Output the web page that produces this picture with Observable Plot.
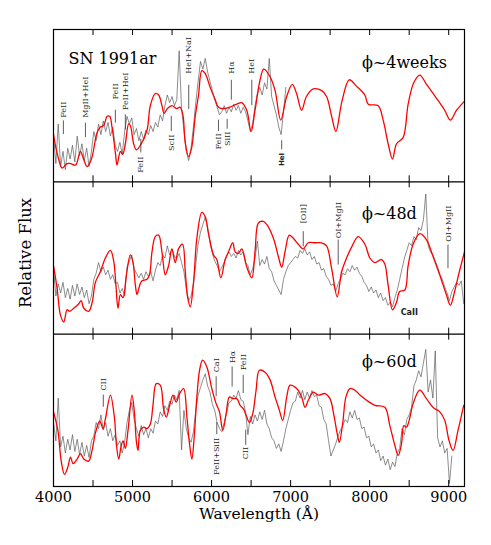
<!DOCTYPE html>
<html>
<head>
<meta charset="utf-8">
<script src="https://cdn.jsdelivr.net/npm/d3@7"></script>
<script src="https://cdn.jsdelivr.net/npm/@observablehq/plot@0.6"></script>
<style>
  html, body { margin: 0; padding: 0; background: #fff; }
  #chart { width: 491px; height: 545px; }
</style>
</head>
<body>
<div id="chart"></div>
<script>
// ---------- data ----------
const panels = ["4weeks", "48d", "60d"];           // top, middle, bottom
const phaseLabels = ["ϕ~4weeks", "ϕ~48d", "ϕ~60d"];
const objectName = "SN 1991ar";
const xTickLabels = [4000, 5000, 6000, 7000, 8000, 9000];
const xMinorTicks = [4000, 4500, 5000, 5500, 6000, 6500, 7000, 7500, 8000, 8500, 9000];
const xLabel = "Wavelength (Å)";
const yLabel = "Relative Flux";

// observed spectra (gray), [wavelength, relative flux within panel]
const grayTop = [[4000,.30],[4030,.12],[4060,.38],[4090,.10],[4120,.20],[4150,.08],[4180,.22],[4210,.15],[4240,.24],[4270,.13],[4300,.30],[4330,.17],[4360,.25],[4390,.14],[4420,.22],[4450,.10],[4480,.20],[4510,.33],[4540,.27],[4570,.38],[4600,.31],[4630,.40],[4660,.33],[4690,.39],[4720,.30],[4750,.36],[4780,.24],[4810,.20],[4840,.26],[4870,.18],[4900,.33],[4930,.43],[4960,.38],[4990,.42],[5020,.31],[5050,.35],[5080,.27],[5110,.33],[5140,.28],[5170,.34],[5200,.31],[5230,.37],[5260,.33],[5290,.39],[5320,.36],[5350,.44],[5380,.40],[5410,.50],[5440,.57],[5470,.52],[5500,.56],[5530,.50],[5560,.54],[5590,.86],[5620,.48],[5650,.34],[5680,.20],[5710,.14],[5740,.22],[5770,.36],[5800,.52],[5830,.66],[5860,.79],[5890,.74],[5920,.81],[5950,.72],[5980,.66],[6010,.60],[6040,.54],[6070,.49],[6100,.44],[6130,.46],[6160,.50],[6190,.45],[6220,.49],[6250,.46],[6280,.51],[6310,.47],[6340,.50],[6370,.45],[6400,.49],[6430,.46],[6460,.40],[6490,.33],[6520,.38],[6550,.50],[6580,.58],[6610,.62],[6640,.57],[6670,.65],[6700,.61],[6730,.81],[6760,.56],[6790,.50],[6820,.44],[6850,.36],[6880,.31],[6910,.46],[6940,.62]];

const grayMid = [[4000,.44],[4030,.25],[4060,.33],[4090,.27],[4120,.34],[4150,.24],[4180,.30],[4210,.23],[4240,.32],[4270,.25],[4300,.33],[4330,.26],[4360,.31],[4390,.24],[4420,.29],[4450,.20],[4480,.25],[4510,.36],[4540,.40],[4570,.47],[4600,.41],[4630,.44],[4660,.39],[4690,.42],[4720,.36],[4750,.39],[4780,.33],[4810,.34],[4840,.27],[4870,.30],[4900,.25],[4930,.44],[4960,.48],[4990,.52],[5020,.43],[5050,.40],[5080,.37],[5110,.40],[5140,.36],[5170,.41],[5200,.38],[5230,.41],[5260,.35],[5290,.42],[5320,.47],[5350,.45],[5380,.52],[5410,.50],[5440,.58],[5470,.52],[5500,.56],[5530,.51],[5560,.50],[5590,.53],[5620,.47],[5650,.41],[5680,.30],[5710,.22],[5740,.25],[5770,.33],[5800,.46],[5830,.59],[5860,.67],[5890,.72],[5920,.77],[5950,.70],[5980,.60],[6010,.53],[6040,.48],[6070,.45],[6100,.41],[6130,.44],[6160,.47],[6190,.51],[6220,.54],[6250,.51],[6280,.53],[6310,.50],[6340,.55],[6370,.52],[6400,.54],[6430,.47],[6460,.45],[6490,.39],[6520,.43],[6550,.50],[6580,.61],[6610,.45],[6640,.49],[6670,.46],[6700,.51],[6730,.43],[6760,.41],[6790,.35],[6820,.32],[6850,.29],[6880,.26],[6910,.36],[6940,.41],[6970,.45],[7000,.47],[7030,.49],[7060,.51],[7090,.50],[7120,.55],[7150,.53],[7180,.56],[7210,.52],[7240,.54],[7270,.49],[7300,.51],[7330,.46],[7360,.47],[7390,.42],[7420,.43],[7450,.38],[7480,.36],[7510,.32],[7540,.33],[7570,.28],[7600,.33],[7630,.36],[7660,.40],[7690,.39],[7720,.43],[7750,.41],[7780,.45],[7810,.42],[7840,.44],[7870,.40],[7900,.38],[7930,.34],[7960,.32],[7990,.28],[8020,.31],[8050,.27],[8080,.29],[8110,.24],[8140,.27],[8170,.22],[8200,.24],[8230,.19],[8260,.21],[8290,.18],[8320,.24],[8350,.29],[8380,.36],[8410,.43],[8440,.50],[8470,.55],[8500,.60],[8530,.58],[8560,.64],[8590,.62],[8620,.70],[8650,.68],[8680,.75],[8710,.92],[8740,.58],[8770,.54],[8800,.52],[8830,.48],[8860,.44],[8890,.39],[8920,.36],[8950,.31],[8980,.27],[9010,.22],[9040,.28],[9070,.31],[9100,.34],[9130,.32],[9160,.35],[9190,.20]];

const grayBot = [[4000,.42],[4030,.30],[4060,.58],[4090,.26],[4120,.33],[4150,.22],[4180,.31],[4210,.24],[4240,.34],[4270,.23],[4300,.31],[4330,.21],[4360,.29],[4390,.20],[4420,.27],[4450,.19],[4480,.30],[4510,.33],[4540,.42],[4570,.38],[4600,.47],[4630,.37],[4660,.42],[4690,.33],[4720,.38],[4750,.30],[4780,.34],[4810,.27],[4840,.30],[4870,.22],[4900,.29],[4930,.42],[4960,.50],[4990,.55],[5020,.44],[5050,.38],[5080,.33],[5110,.40],[5140,.34],[5170,.38],[5200,.32],[5230,.38],[5260,.35],[5290,.43],[5320,.41],[5350,.49],[5380,.46],[5410,.53],[5440,.50],[5470,.56],[5500,.54],[5530,.60],[5560,.57],[5590,.63],[5620,.24],[5650,.50],[5680,.38],[5710,.32],[5740,.29],[5770,.36],[5800,.50],[5830,.60],[5860,.65],[5890,.70],[5920,.74],[5950,.66],[5980,.62],[6010,.54],[6040,.50],[6070,.42],[6100,.38],[6130,.36],[6160,.42],[6190,.48],[6220,.55],[6250,.56],[6280,.60],[6310,.58],[6340,.63],[6370,.57],[6400,.56],[6430,.49],[6460,.34],[6490,.46],[6520,.41],[6550,.47],[6580,.43],[6610,.49],[6640,.44],[6670,.50],[6700,.41],[6730,.38],[6760,.32],[6790,.30],[6820,.25],[6850,.28],[6880,.23],[6910,.30],[6940,.38],[6970,.44],[7000,.50],[7030,.55],[7060,.56],[7090,.62],[7120,.58],[7150,.63],[7180,.57],[7210,.62],[7240,.58],[7270,.63],[7300,.59],[7330,.60],[7360,.53],[7390,.52],[7420,.44],[7450,.41],[7480,.30],[7510,.20],[7540,.24],[7570,.28],[7600,.33],[7630,.37],[7660,.40],[7690,.44],[7720,.42],[7750,.49],[7780,.45],[7810,.50],[7840,.44],[7870,.45],[7900,.38],[7930,.39],[7960,.32],[7990,.33],[8020,.26],[8050,.28],[8080,.22],[8110,.24],[8140,.17],[8170,.20],[8200,.14],[8230,.18],[8260,.11],[8290,.16],[8320,.13],[8350,.22],[8380,.25],[8410,.38],[8440,.34],[8470,.44],[8500,.47],[8530,.52],[8560,.66],[8590,.70],[8620,.76],[8650,.72],[8680,.81],[8710,.90],[8740,.62],[8770,.70],[8800,.58],[8830,.89],[8860,.32],[8890,.26],[8920,.30],[8950,.22],[8980,.25],[9010,.02],[9040,.20]];

// synthetic model spectra (red)
const redTop = [[4000,.31],[4050,.18],[4110,.09],[4170,.12],[4215,.12],[4280,.11],[4340,.20],[4380,.15],[4425,.10],[4480,.15],[4550,.32],[4593,.36],[4635,.37],[4678,.43],[4711,.43],[4740,.36],[4783,.19],[4804,.11],[4846,.20],[4875,.18],[4909,.25],[4951,.38],[4972,.37],[5014,.25],[5048,.21],[5100,.24],[5183,.34],[5225,.50],[5288,.58],[5330,.57],[5372,.50],[5400,.45],[5440,.48],[5498,.50],[5560,.48],[5600,.49],[5637,.44],[5666,.26],[5709,.165],[5750,.23],[5793,.43],[5835,.57],[5877,.73],[5920,.71],[5982,.62],[6045,.54],[6087,.49],[6150,.48],[6230,.49],[6319,.51],[6380,.52],[6445,.47],[6500,.33],[6550,.47],[6614,.67],[6660,.74],[6740,.69],[6803,.60],[6875,.405],[6950,.56],[7021,.64],[7075,.58],[7139,.47],[7200,.56],[7287,.61],[7390,.60],[7455,.56],[7519,.43],[7573,.33],[7650,.53],[7742,.67],[7830,.63],[7939,.57],[7982,.51],[8108,.50],[8171,.405],[8234,.25],[8289,.15],[8340,.25],[8423,.29],[8487,.51],[8558,.65],[8634,.70],[8720,.64],[8844,.55],[8949,.47],[9021,.405],[9100,.47],[9200,.53]];

const redMid = [[4000,.45],[4046,.30],[4088,.125],[4130,.08],[4172,.16],[4205,.15],[4256,.17],[4320,.20],[4350,.22],[4383,.17],[4446,.15],[4490,.21],[4530,.34],[4593,.41],[4656,.50],[4720,.55],[4762,.48],[4790,.32],[4816,.17],[4846,.26],[4880,.24],[4920,.38],[4972,.52],[5006,.47],[5036,.32],[5057,.26],[5090,.32],[5120,.35],[5183,.36],[5215,.39],[5246,.54],[5288,.64],[5330,.65],[5372,.54],[5414,.39],[5456,.45],[5498,.56],[5540,.47],[5582,.56],[5633,.59],[5666,.42],[5695,.25],[5730,.18],[5772,.34],[5814,.63],[5877,.80],[5920,.77],[5961,.66],[6025,.52],[6066,.49],[6117,.37],[6172,.49],[6214,.54],[6268,.60],[6298,.54],[6340,.53],[6382,.56],[6446,.44],[6509,.37],[6551,.55],[6593,.73],[6656,.74],[6698,.72],[6782,.63],[6845,.51],[6887,.44],[6929,.54],[6983,.65],[7034,.63],[7097,.59],[7160,.56],[7223,.60],[7307,.60],[7392,.60],[7455,.58],[7519,.43],[7590,.245],[7645,.41],[7700,.49],[7770,.57],[7855,.64],[7940,.59],[8003,.50],[8066,.47],[8150,.49],[8192,.46],[8234,.32],[8289,.16],[8340,.21],[8380,.28],[8445,.29],[8487,.45],[8550,.59],[8634,.66],[8718,.62],[8802,.51],[8886,.39],[8970,.26],[9021,.19],[9075,.28],[9130,.40],[9200,.54]];

const redBot = [[4000,.49],[4055,.37],[4097,.17],[4139,.079],[4181,.127],[4215,.193],[4248,.15],[4299,.18],[4341,.215],[4383,.18],[4446,.167],[4488,.237],[4530,.35],[4585,.43],[4627,.38],[4657,.445],[4720,.60],[4770,.456],[4795,.28],[4825,.18],[4854,.26],[4880,.30],[4909,.25],[4943,.37],[4993,.60],[5023,.49],[5048,.30],[5069,.237],[5098,.368],[5140,.39],[5183,.38],[5225,.41],[5258,.53],[5300,.675],[5351,.665],[5393,.51],[5427,.456],[5469,.53],[5511,.60],[5553,.555],[5595,.61],[5646,.643],[5688,.456],[5721,.28],[5751,.18],[5780,.325],[5814,.588],[5848,.763],[5886,.83],[5940,.785],[6003,.643],[6058,.544],[6100,.49],[6142,.368],[6184,.478],[6226,.588],[6268,.577],[6319,.577],[6361,.533],[6403,.51],[6445,.456],[6479,.42],[6521,.478],[6563,.632],[6605,.763],[6677,.75],[6740,.70],[6803,.588],[6858,.50],[6900,.434],[6951,.588],[6993,.665],[7077,.643],[7140,.588],[7182,.52],[7224,.566],[7287,.62],[7351,.60],[7435,.61],[7498,.577],[7548,.467],[7590,.346],[7616,.29],[7658,.412],[7700,.588],[7750,.643],[7814,.632],[7877,.60],[7961,.566],[8066,.533],[8192,.52],[8255,.40],[8319,.27],[8361,.204],[8403,.28],[8432,.40],[8466,.39],[8500,.434],[8550,.544],[8634,.632],[8718,.577],[8803,.518],[8887,.49],[8950,.434],[9005,.30],[9055,.237],[9118,.368],[9190,.533]];

// line identifications: text above a marker (label starts at `base`, marker from lo to hi)
const idsAbove = [
  {panel: 0, text: "FeII",     wave: 4125, base: 0.42,  lo: 0.31,  hi: 0.40},
  {panel: 0, text: "MgII+HeI", wave: 4404, base: 0.42,  lo: 0.29,  hi: 0.385},
  {panel: 0, text: "FeII",     wave: 4783, base: 0.54,  lo: 0.385, hi: 0.47},
  {panel: 0, text: "FeII+HeI", wave: 4909, base: 0.47,  lo: 0.34,  hi: 0.44},
  {panel: 0, text: "HeI+NaI",  wave: 5711, base: 0.71,  lo: 0.475, hi: 0.634},
  {panel: 0, text: "Hα",       wave: 6250, base: 0.71,  lo: 0.536, hi: 0.667},
  {panel: 0, text: "HeI",      wave: 6509, base: 0.71,  lo: 0.50,  hi: 0.667},
  {panel: 1, text: "[OII]",    wave: 7160, base: 0.728, lo: 0.574, hi: 0.673},
  {panel: 1, text: "OI+MgII",  wave: 7602, base: 0.63,  lo: 0.454, hi: 0.618},
  {panel: 1, text: "OI+MgII",  wave: 8991, base: 0.607, lo: 0.43,  hi: 0.585},
  {panel: 2, text: "CII",      wave: 4630, base: 0.63,  lo: 0.52,  hi: 0.60},
  {panel: 2, text: "CaI",      wave: 6058, base: 0.75,  lo: 0.59,  hi: 0.72},
  {panel: 2, text: "Hα",       wave: 6260, base: 0.81,  lo: 0.653, hi: 0.785},
  {panel: 2, text: "FeII",     wave: 6400, base: 0.763, lo: 0.61,  hi: 0.73}
];
// text below a marker (label ends at `base`)
const idsBelow = [
  {panel: 0, text: "FeII",      wave: 5105, base: 0.165, lo: 0.19,  hi: 0.28},
  {panel: 0, text: "ScII",      wave: 5490, base: 0.31,  lo: 0.33,  hi: 0.43},
  {panel: 0, text: "FeII",      wave: 6087, base: 0.318, lo: 0.33,  hi: 0.405},
  {panel: 0, text: "SiII",      wave: 6197, base: 0.33,  lo: 0.345, hi: 0.41},
  {panel: 2, text: "FeII+SiII", wave: 6066, base: 0.32,  lo: 0.34,  hi: 0.42},
  {panel: 2, text: "CII",       wave: 6432, base: 0.26,  lo: 0.27,  hi: 0.37}
];
const idsBelowBold = [
  {panel: 0, text: "HeI", wave: 6887, base: 0.19, lo: 0.21, hi: 0.27}
];
const idsFlat = [
  {panel: 1, text: "CaII", wave: 8501, base: 0.14}
];
// panel titles
const objectPos = {panel: 0, wave: 4189, level: 0.81};
const phasePos = [
  {panel: 0, wave: 7902, level: 0.78},
  {panel: 1, wave: 7902, level: 0.79},
  {panel: 2, wave: 7902, level: 0.82}
];

// ---------- build tables ----------
const nPanels = panels.length;
const off = p => nPanels - 1 - p;  // stack panels top to bottom
const toRows = (arr, p) => arr.map(([wave, flux]) => ({panel: panels[p], wave, y: flux + off(p)}));
const grayRows = [...toRows(grayTop, 0), ...toRows(grayMid, 1), ...toRows(grayBot, 2)];
const redRows  = [...toRows(redTop, 0),  ...toRows(redMid, 1),  ...toRows(redBot, 2)];
const shift = d => ({...d, yb: d.base + off(d.panel), y1: d.lo + off(d.panel), y2: d.hi + off(d.panel)});
const above = idsAbove.map(shift), below = idsBelow.map(shift), belowBold = idsBelowBold.map(shift);
const flat = idsFlat.map(d => ({...d, yb: d.base + off(d.panel)}));

const W = 491, H = 545, mt = 29, mb = 59, ml = 53, mr = 27;
const panelPx = (H - mt - mb) / nPanels;
const tickLen = 6 / panelPx;
const boundaries = d3.range(nPanels + 1);
const tickRows = boundaries.flatMap(b => xMinorTicks.map(x => ({x, y1: Math.max(0, b - tickLen), y2: Math.min(nPanels, b + tickLen)})));

const chart = Plot.plot({
  width: W, height: H,
  marginTop: mt, marginBottom: mb, marginLeft: ml, marginRight: mr,
  style: {fontFamily: "'DejaVu Serif', serif", fontSize: "14.5px", background: "#fff", color: "#000", overflow: "visible"},
  x: {domain: [4000, 9200], ticks: xTickLabels, tickFormat: "d", tickSize: 0, tickPadding: 5, label: null},
  y: {domain: [0, nPanels], axis: null},
  marks: [
    Plot.line(grayRows, {x: "wave", y: "y", z: "panel", stroke: "#5c5c5c", strokeWidth: 0.7}),
    Plot.line(redRows, {x: "wave", y: "y", z: "panel", stroke: "#ff0000", strokeWidth: 1.3, curve: "catmull-rom"}),
    Plot.ruleX([...above, ...below, ...belowBold], {x: "wave", y1: "y1", y2: "y2", stroke: "#333", strokeWidth: 0.8}),
    Plot.text(above, {x: "wave", y: "yb", text: "text", rotate: -90, textAnchor: "start", lineAnchor: "middle", fontSize: 8, fill: "#222"}),
    Plot.text(below, {x: "wave", y: "yb", text: "text", rotate: -90, textAnchor: "end", lineAnchor: "middle", fontSize: 8, fill: "#222"}),
    Plot.text(belowBold, {x: "wave", y: "yb", text: "text", rotate: -90, textAnchor: "end", lineAnchor: "middle", fontSize: 7, fontWeight: "bold", fontFamily: "'DejaVu Sans', sans-serif", fill: "#222"}),
    Plot.text(flat, {x: "wave", y: "yb", text: "text", fontSize: 8, fontWeight: "bold", fontFamily: "'DejaVu Sans', sans-serif", fill: "#222"}),
    Plot.text([objectName], {x: objectPos.wave, y: objectPos.level + off(objectPos.panel), textAnchor: "start", fontSize: 16}),
    Plot.text(phasePos, {x: "wave", y: d => d.level + off(d.panel), text: (d, i) => phaseLabels[i], textAnchor: "start", fontSize: 16}),
    Plot.frame({stroke: "#000", strokeWidth: 1.2}),
    Plot.ruleY(boundaries.slice(1, -1), {stroke: "#000", strokeWidth: 1.2}),
    Plot.ruleX(tickRows, {x: "x", y1: "y1", y2: "y2", stroke: "#000", strokeWidth: 1}),
    Plot.text([xLabel], {frameAnchor: "bottom", textAnchor: "middle", dy: 32, fontSize: 15.5}),
    Plot.text([yLabel], {frameAnchor: "left", textAnchor: "middle", dx: -28, dy: -5, rotate: -90, fontSize: 16.5})
  ]
});
document.getElementById("chart").appendChild(chart);
</script>
</body>
</html>
